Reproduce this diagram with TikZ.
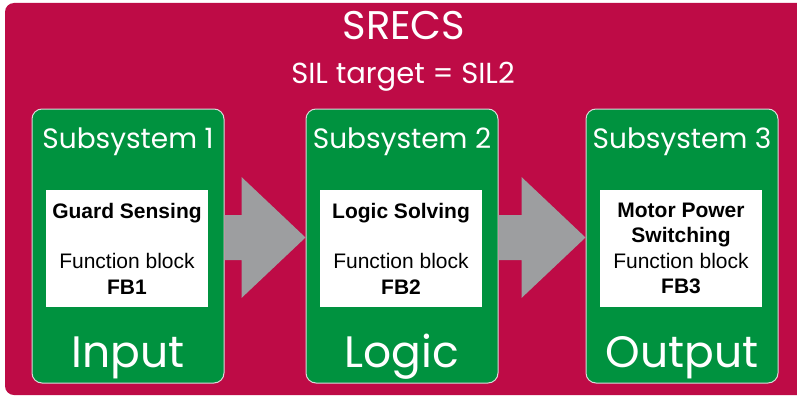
\documentclass[tikz,border=0pt]{standalone}
\usepackage{fontspec}
\newfontfamily\headfont{Poppins}
\newfontfamily\blockfont{Liberation Sans}
\usetikzlibrary{calc}
\definecolor{srecsred}{RGB}{190,11,70}
\definecolor{subgreen}{RGB}{0,146,63}
\definecolor{flowgray}{RGB}{157,158,160}

\begin{document}
\begin{tikzpicture}[x=1pt, y=-1pt,
  subsys/.style={draw=white!85!black, line width=1pt, fill=subgreen, rounded corners=10pt,
    minimum width=192pt, minimum height=274pt, inner sep=0pt},
  fblock/.style={fill=white, minimum width=162pt, minimum height=117pt, inner sep=0pt,
    align=center, font=\blockfont\fontsize{21}{25.5}\selectfont},
  subtitle/.style={text=white, anchor=base, inner sep=0pt, font=\headfont\fontsize{28}{30}\selectfont},
  role/.style={text=white, anchor=base, inner sep=0pt, font=\headfont\fontsize{44}{46}\selectfont},
  heading/.style={text=white, anchor=base, inner sep=0pt},
  flow/.style={fill=flowgray}]
  \useasboundingbox (0,0) rectangle (797,396);
  \clip (0,0) rectangle (797,396);
  % red frame, open to the right
  \fill[srecsred, rounded corners=9pt] (5,3) rectangle (815,395);
  \node[heading, font=\headfont\fontsize{40}{42}\selectfont] (srecs) at (404,40) {SRECS};
  \node[heading, font=\headfont\fontsize{29}{31}\selectfont] (sil) at (403,83) {SIL target = SIL2};

  % subsystems
  \node[subsys] (sub1) at (128,246) {};
  \node[subsys] (sub2) at (402,246) {};
  \node[subsys] (sub3) at (682,246) {};

  \node[subtitle] (st1) at ($(sub1.north)+(0,40)$) {Subsystem 1};
  \node[subtitle] (st2) at ($(sub2.north)+(0,40)$) {Subsystem 2};
  \node[subtitle] (st3) at ($(sub3.north)+(0,40)$) {Subsystem 3};

  \node[fblock] (fb1) at ($(sub1.center)+(-1,2.5)$) {\textbf{Guard Sensing}\\[25pt]Function block\\\textbf{FB1}};
  \node[fblock] (fb2) at ($(sub2.center)+(-1,2.5)$) {\textbf{Logic Solving}\\[25pt]Function block\\\textbf{FB2}};
  \node[fblock] (fb3) at ($(sub3.center)+(-1,2.5)$) {\textbf{Motor Power}\\\textbf{Switching}\\Function block\\\textbf{FB3}};

  \node[role] (in) at ($(sub1.south)+(0,-16)$) {Input};
  \node[role] (lg) at ($(sub2.south)+(0,-16)$) {Logic};
  \node[role] (out) at ($(sub3.south)+(0,-16)$) {Output};

  % block arrows between subsystems
  \foreach \a/\b in {sub1/sub2, sub2/sub3}
    \fill[flow] ($(\a.east)+(0,-31)$) -- ($(\b.west)+(-64,-31)$) -- ($(\b.west)+(-64,-69)$)
      -- ($(\b.west)+(0,-8.5)$) -- ($(\b.west)+(-64,52)$) -- ($(\b.west)+(-64,14)$)
      -- ($(\a.east)+(0,14)$) -- cycle;
\end{tikzpicture}
\end{document}
